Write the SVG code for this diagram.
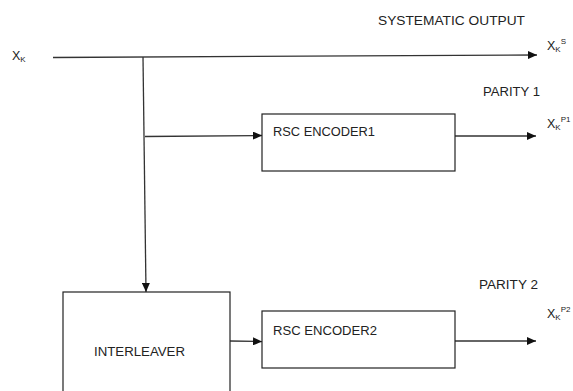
<svg xmlns="http://www.w3.org/2000/svg" width="573" height="391" viewBox="0 0 573 391">
<defs>
<marker id="ah" markerWidth="9" markerHeight="8" refX="9" refY="4" orient="auto" markerUnits="userSpaceOnUse">
<path d="M0,0 L9,4 L0,8 Z" fill="#111"/>
</marker>
</defs>
<style>
text{font-family:"Liberation Sans",Arial,sans-serif;fill:#222;font-size:12.5px}
.sub{font-size:8px}
.box{fill:#fff;stroke:#222;stroke-width:1.2}
.ln{fill:none;stroke:#333;stroke-width:1.3}
</style>
<rect width="573" height="391" fill="#fff"/>
<g id="connectors">
<path class="ln" d="M53,57.5 L537,55" marker-end="url(#ah)"/>
<path class="ln" d="M143,57 L146,292" marker-end="url(#ah)"/>
<path class="ln" d="M145,136.5 L262,135.5" marker-end="url(#ah)"/>
<path class="ln" d="M455,136 L536,136" marker-end="url(#ah)"/>
<path class="ln" d="M230,341 L262,341.5" marker-end="url(#ah)"/>
<path class="ln" d="M455,341 L536,341" marker-end="url(#ah)"/>
</g>
<g id="input-label">
<text x="12" y="60">X<tspan class="sub" dy="2">K</tspan></text>
</g>
<g id="systematic-output">
<text x="378" y="25" textLength="147" lengthAdjust="spacingAndGlyphs">SYSTEMATIC OUTPUT</text>
<text x="547" y="50">X<tspan class="sub" dy="2">K</tspan><tspan class="sub" dy="-8">S</tspan></text>
</g>
<g id="rsc-encoder1">
<rect class="box" x="262" y="114" width="193" height="57"/>
<text x="273" y="136" textLength="102" lengthAdjust="spacingAndGlyphs">RSC ENCODER1</text>
</g>
<g id="parity1">
<text x="483" y="96" textLength="57" lengthAdjust="spacingAndGlyphs">PARITY 1</text>
<text x="547" y="128">X<tspan class="sub" dy="2">K</tspan><tspan class="sub" dy="-8">P1</tspan></text>
</g>
<g id="interleaver">
<rect class="box" x="63" y="292" width="167" height="110"/>
<text x="94" y="356" textLength="91" lengthAdjust="spacingAndGlyphs">INTERLEAVER</text>
</g>
<g id="rsc-encoder2">
<rect class="box" x="262" y="311" width="193" height="57"/>
<text x="273" y="335" textLength="104" lengthAdjust="spacingAndGlyphs">RSC ENCODER2</text>
</g>
<g id="parity2">
<text x="479" y="289" textLength="59" lengthAdjust="spacingAndGlyphs">PARITY 2</text>
<text x="547" y="318">X<tspan class="sub" dy="2">K</tspan><tspan class="sub" dy="-8">P2</tspan></text>
</g>
</svg>
